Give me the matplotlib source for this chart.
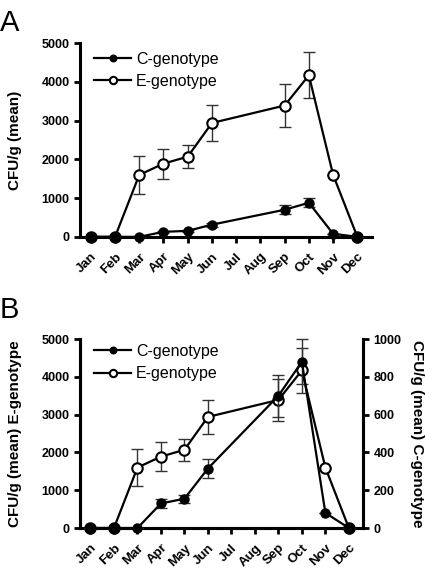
import numpy as np
import matplotlib
matplotlib.use("Agg")
import matplotlib.pyplot as plt

plt.rcParams['font.family'] = ['Liberation Sans', 'DejaVu Sans']

# -------------------------------
# Data
# -------------------------------
months = ['Jan', 'Feb', 'Mar', 'Apr', 'May', 'Jun', 'Jul', 'Aug', 'Sep', 'Oct', 'Nov', 'Dec']
sample_months = [1, 2, 3, 4, 5, 6, 9, 10, 11, 12]

e_mean = [0, 0, 1600, 1890, 2070, 2940, 3390, 4170, 1600, 0]
e_err = [0, 0, 490, 390, 290, 460, 560, 590, 0, 0]

c_mean = [0, 0, 0, 130, 155, 315, 700, 880, 80, 0]
c_err = [0, 0, 0, 25, 20, 50, 110, 120, 0, 0]

fig = plt.figure(figsize=(4.25, 5.68), dpi=100)


def style_axis(ax, right=False):
    ax.spines['top'].set_visible(False)
    if not right:
        ax.spines['right'].set_visible(False)
    for side in ['left', 'bottom', 'right']:
        ax.spines[side].set_linewidth(2.2)
    ax.tick_params(width=2, length=4, labelsize=9)
    ax.tick_params(axis='x', pad=6)
    ax.set_xticks(range(1, 13))
    ax.set_xticklabels(months, rotation=45, ha='right', rotation_mode='anchor',
                       fontweight='bold', fontsize=9.5)
    ax.set_xlim(0.55, 12.6)
    for lab in ax.get_yticklabels():
        lab.set_fontweight('bold')


def plot_series(ax, x, y, err, filled, label, z):
    face = 'black' if filled else 'white'
    ms = 6 if filled else 7.5
    ax.errorbar(x, y, yerr=err, fmt='none', ecolor='#333333', elinewidth=1,
                capsize=4, capthick=1, clip_on=False, zorder=z - 1)
    line, = ax.plot(x, y, color='black', lw=1.6, marker='o', ms=ms,
                    mfc=face, mec='black', mew=1.5, clip_on=False,
                    zorder=z, label=label)
    return line


leg_kw = dict(loc='upper left', frameon=False, fontsize=11.5, markerscale=0.7,
              handlelength=2.3, handletextpad=0.3, labelspacing=0.45)

# -------------------------------
# Panel A: both genotypes on one axis
# -------------------------------
axA = fig.add_axes([0.188, 0.583, 0.687, 0.341])
le = plot_series(axA, sample_months, e_mean, e_err, False, 'E-genotype', 3)
lc = plot_series(axA, sample_months, c_mean, c_err, True, 'C-genotype', 5)
axA.set_ylim(0, 5000)
axA.set_yticks([0, 1000, 2000, 3000, 4000, 5000])
style_axis(axA)
axA.set_ylabel('CFU/g (mean)', fontweight='bold', fontsize=11, labelpad=14)
axA.legend(handles=[lc, le], bbox_to_anchor=(0.0, 1.03), **leg_kw)
fig.text(0.0, 0.985, 'A', fontsize=21, va='top', ha='left')

# -------------------------------
# Panel B: separate y-axes
# -------------------------------
axB = fig.add_axes([0.188, 0.0704, 0.666, 0.3326])
axB2 = axB.twinx()
le2 = plot_series(axB, sample_months, e_mean, e_err, False, 'E-genotype', 3)
lc2 = plot_series(axB2, sample_months, c_mean, c_err, True, 'C-genotype', 5)
axB.set_ylim(0, 5000)
axB.set_yticks([0, 1000, 2000, 3000, 4000, 5000])
axB2.set_ylim(0, 1000)
axB2.set_yticks([0, 200, 400, 600, 800, 1000])
style_axis(axB, right=True)
axB2.spines['top'].set_visible(False)
for side in ['left', 'bottom', 'right']:
    axB2.spines[side].set_linewidth(2.2)
axB2.tick_params(width=2, length=4, labelsize=9)
for lab in axB2.get_yticklabels():
    lab.set_fontweight('bold')
axB.set_ylabel('CFU/g (mean) E-genotype', fontweight='bold', fontsize=11, labelpad=14)
axB2.set_ylabel('CFU/g (mean) C-genotype', fontweight='bold', fontsize=11,
                rotation=270, labelpad=16)
axB2.legend(handles=[lc2, le2], bbox_to_anchor=(0.0, 1.05), **leg_kw)
fig.text(0.0, 0.478, 'B', fontsize=21, va='top', ha='left')

fig.savefig('out.png', dpi=100)
